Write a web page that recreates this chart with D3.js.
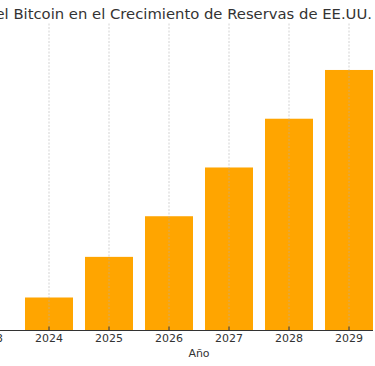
<!DOCTYPE html>
<html>
<head>
<meta charset="utf-8">
<script src="https://cdn.jsdelivr.net/npm/d3@7"></script>
<style>
  html, body { margin: 0; padding: 0; background: #fff; }
  svg { display: block; font-family: "DejaVu Sans", sans-serif; }
</style>
</head>
<body>
<div id="chart"></div>
<script>
// data
const years = ['2023', '2024', '2025', '2026', '2027', '2028', '2029'];
const reserves = [0, 20, 45, 70, 100, 130, 160];
const titleText = 'Impacto del Bitcoin en el Crecimiento de Reservas de EE.UU.';
const xLabel = 'Año';

const W = 375, H = 366;
const plotTop = 23, base = 330;

const svg = d3.select('#chart').append('svg')
  .attr('width', W)
  .attr('height', H);

const x = d3.scaleBand()
  .domain(years)
  .range([-41, 379])
  .paddingInner(0.2)
  .paddingOuter(0.1);

const y = d3.scaleLinear()
  .domain([0, 188.9])
  .range([base, plotTop]);

// bars
svg.selectAll('.bar')
  .data(years.map((d, i) => ({ year: d, value: reserves[i] })))
  .enter().append('rect')
  .attr('class', 'bar')
  .attr('x', d => x(d.year))
  .attr('y', d => y(d.value))
  .attr('width', x.bandwidth())
  .attr('height', d => base - y(d.value))
  .attr('fill', '#FFA500');

// vertical grid (sits above the bars, like the reference)
const grid = svg.append('g')
  .attr('transform', `translate(0,${base})`)
  .call(d3.axisBottom(x).tickSize(-(base - plotTop)).tickFormat(''));
grid.select('.domain').remove();
grid.selectAll('line')
  .attr('stroke', '#b0b0b0')
  .attr('stroke-opacity', 0.55)
  .attr('stroke-dasharray', '2,1.5');

// x axis, ticks pointing inward
const xAxis = svg.append('g')
  .attr('transform', `translate(0,${base})`)
  .call(d3.axisBottom(x).tickSize(-3.5).tickPadding(4.5).tickSizeOuter(0));
xAxis.select('.domain').remove();
xAxis.selectAll('line').attr('stroke', '#333');
xAxis.selectAll('text')
  .attr('fill', '#333')
  .style('font-size', '11px')
  .style('font-family', '"DejaVu Sans", sans-serif');

svg.append('line')
  .attr('x1', 0)
  .attr('x2', x('2029') + x.bandwidth())
  .attr('y1', base + 0.5)
  .attr('y2', base + 0.5)
  .attr('stroke', '#333')
  .attr('stroke-width', 1);

svg.append('text')
  .attr('x', 199)
  .attr('y', 357)
  .attr('text-anchor', 'middle')
  .attr('fill', '#333')
  .style('font-size', '11px')
  .text(xLabel);

svg.append('text')
  .attr('x', 372)
  .attr('y', 19)
  .attr('text-anchor', 'end')
  .attr('fill', '#333')
  .style('font-size', '14.8px')
  .text(titleText);
</script>
</body>
</html>
